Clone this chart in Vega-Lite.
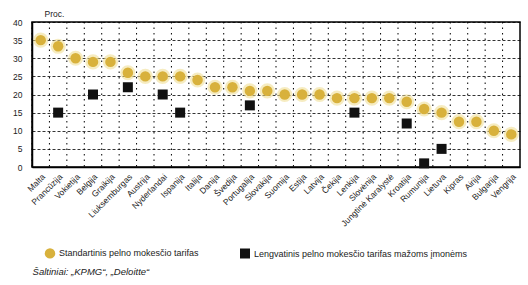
{
  "$schema": "https://vega.github.io/schema/vega-lite/v6.json",
  "width": 488,
  "height": 145,
  "autosize": {"type": "none"},
  "padding": {"left": 32, "top": 22, "right": 8, "bottom": 118},
  "background": "white",
  "config": {
    "font": "Liberation Sans",
    "view": {"stroke": "black", "strokeWidth": 1.5}
  },
  "title": {
    "text": "Šaltiniai: „KPMG“, „Deloitte“",
    "orient": "bottom",
    "anchor": "start",
    "fontSize": 9.5,
    "fontStyle": "italic",
    "fontWeight": "normal",
    "color": "#222",
    "dx": 20,
    "offset": 8
  },
  "data": {
    "values": [
      {"salis": "Malta", "tarifas": 35, "serija": "Standartinis pelno mokesčio tarifas"},
      {"salis": "Prancūzija", "tarifas": 33.3, "serija": "Standartinis pelno mokesčio tarifas"},
      {"salis": "Vokietija", "tarifas": 30, "serija": "Standartinis pelno mokesčio tarifas"},
      {"salis": "Belgija", "tarifas": 29, "serija": "Standartinis pelno mokesčio tarifas"},
      {"salis": "Graikija", "tarifas": 29, "serija": "Standartinis pelno mokesčio tarifas"},
      {"salis": "Liuksemburgas", "tarifas": 26, "serija": "Standartinis pelno mokesčio tarifas"},
      {"salis": "Austrija", "tarifas": 25, "serija": "Standartinis pelno mokesčio tarifas"},
      {"salis": "Nyderlandai", "tarifas": 25, "serija": "Standartinis pelno mokesčio tarifas"},
      {"salis": "Ispanija", "tarifas": 25, "serija": "Standartinis pelno mokesčio tarifas"},
      {"salis": "Italija", "tarifas": 24, "serija": "Standartinis pelno mokesčio tarifas"},
      {"salis": "Danija", "tarifas": 22, "serija": "Standartinis pelno mokesčio tarifas"},
      {"salis": "Švedija", "tarifas": 22, "serija": "Standartinis pelno mokesčio tarifas"},
      {"salis": "Portugalija", "tarifas": 21, "serija": "Standartinis pelno mokesčio tarifas"},
      {"salis": "Slovakija", "tarifas": 21, "serija": "Standartinis pelno mokesčio tarifas"},
      {"salis": "Suomija", "tarifas": 20, "serija": "Standartinis pelno mokesčio tarifas"},
      {"salis": "Estija", "tarifas": 20, "serija": "Standartinis pelno mokesčio tarifas"},
      {"salis": "Latvija", "tarifas": 20, "serija": "Standartinis pelno mokesčio tarifas"},
      {"salis": "Čekija", "tarifas": 19, "serija": "Standartinis pelno mokesčio tarifas"},
      {"salis": "Lenkija", "tarifas": 19, "serija": "Standartinis pelno mokesčio tarifas"},
      {"salis": "Slovėnija", "tarifas": 19, "serija": "Standartinis pelno mokesčio tarifas"},
      {"salis": "Jungtinė Karalystė", "tarifas": 19, "serija": "Standartinis pelno mokesčio tarifas"},
      {"salis": "Kroatija", "tarifas": 18, "serija": "Standartinis pelno mokesčio tarifas"},
      {"salis": "Rumunija", "tarifas": 16, "serija": "Standartinis pelno mokesčio tarifas"},
      {"salis": "Lietuva", "tarifas": 15, "serija": "Standartinis pelno mokesčio tarifas"},
      {"salis": "Kipras", "tarifas": 12.5, "serija": "Standartinis pelno mokesčio tarifas"},
      {"salis": "Airija", "tarifas": 12.5, "serija": "Standartinis pelno mokesčio tarifas"},
      {"salis": "Bulgarija", "tarifas": 10, "serija": "Standartinis pelno mokesčio tarifas"},
      {"salis": "Vengrija", "tarifas": 9, "serija": "Standartinis pelno mokesčio tarifas"},
      {"salis": "Prancūzija", "tarifas": 15, "serija": "Lengvatinis pelno mokesčio tarifas mažoms įmonėms"},
      {"salis": "Belgija", "tarifas": 20, "serija": "Lengvatinis pelno mokesčio tarifas mažoms įmonėms"},
      {"salis": "Liuksemburgas", "tarifas": 22, "serija": "Lengvatinis pelno mokesčio tarifas mažoms įmonėms"},
      {"salis": "Nyderlandai", "tarifas": 20, "serija": "Lengvatinis pelno mokesčio tarifas mažoms įmonėms"},
      {"salis": "Ispanija", "tarifas": 15, "serija": "Lengvatinis pelno mokesčio tarifas mažoms įmonėms"},
      {"salis": "Portugalija", "tarifas": 17, "serija": "Lengvatinis pelno mokesčio tarifas mažoms įmonėms"},
      {"salis": "Lenkija", "tarifas": 15, "serija": "Lengvatinis pelno mokesčio tarifas mažoms įmonėms"},
      {"salis": "Kroatija", "tarifas": 12, "serija": "Lengvatinis pelno mokesčio tarifas mažoms įmonėms"},
      {"salis": "Rumunija", "tarifas": 1, "serija": "Lengvatinis pelno mokesčio tarifas mažoms įmonėms"},
      {"salis": "Lietuva", "tarifas": 5, "serija": "Lengvatinis pelno mokesčio tarifas mažoms įmonėms"}
    ]
  },
  "encoding": {
    "x": {
      "field": "salis", "type": "nominal", "sort": null,
      "scale": {"type": "band", "paddingInner": 0, "paddingOuter": 0},
      "axis": {"grid": false, "ticks": false, "domain": true, "domainColor": "black", "domainWidth": 1.5, "title": null, "labelAngle": -45, "labelFontSize": 8.5, "labelColor": "#222", "labelPadding": 5, "labelOverlap": false}
    }
  },
  "layer": [
    {
      "transform": [{"filter": "datum.serija === 'Standartinis pelno mokesčio tarifas'"}],
      "mark": {"type": "rule", "color": "black", "strokeWidth": 1, "strokeDash": [1.5, 4]},
      "encoding": {
        "x": {"field": "salis", "type": "nominal", "sort": null, "bandPosition": 0}
      }
    },
    {
      "transform": [{"filter": "datum.serija === 'Standartinis pelno mokesčio tarifas'"}],
      "mark": {"type": "point", "filled": true, "shape": "circle", "size": 230, "color": "#efdd8e", "opacity": 0.55},
      "encoding": {
        "y": {
          "field": "tarifas", "type": "quantitative", "scale": {"domain": [0, 40]},
          "axis": {"values": [0, 5, 10, 15, 20, 25, 30, 35, 40], "grid": true, "gridDash": [3, 2], "gridColor": "black", "gridWidth": 0.8, "domain": true, "domainColor": "black", "domainWidth": 1.5, "ticks": false, "labelPadding": 10, "labelFontSize": 8.5, "labelColor": "#222", "title": "Proc.", "titleAngle": 0, "titleAlign": "left", "titleBaseline": "bottom", "titleX": 12, "titleY": -4, "titleFontSize": 8.5, "titleFontWeight": "normal", "titleColor": "#222"}
        }
      }
    },
    {
      "mark": {"type": "point", "filled": true, "opacity": 1},
      "encoding": {
        "y": {
          "field": "tarifas", "type": "quantitative", "scale": {"domain": [0, 40]},
          "axis": {"values": [0, 5, 10, 15, 20, 25, 30, 35, 40], "grid": true, "gridDash": [3, 2], "gridColor": "black", "gridWidth": 0.8, "domain": true, "domainColor": "black", "domainWidth": 1.5, "ticks": false, "labelPadding": 10, "labelFontSize": 8.5, "labelColor": "#222", "title": "Proc.", "titleAngle": 0, "titleAlign": "left", "titleBaseline": "bottom", "titleX": 12, "titleY": -4, "titleFontSize": 8.5, "titleFontWeight": "normal", "titleColor": "#222"}
        },
        "color": {
          "field": "serija", "type": "nominal",
          "scale": {"domain": ["Standartinis pelno mokesčio tarifas", "Lengvatinis pelno mokesčio tarifas mažoms įmonėms"], "range": ["#d8b13c", "#111111"]},
          "legend": {"orient": "none", "legendX": 12, "legendY": 225, "direction": "horizontal", "title": null, "labelFontSize": 9, "labelColor": "#222", "labelLimit": 0, "symbolSize": 50, "columnPadding": 40, "labelOffset": 3}
        },
        "shape": {
          "field": "serija", "type": "nominal",
          "scale": {"domain": ["Standartinis pelno mokesčio tarifas", "Lengvatinis pelno mokesčio tarifas mažoms įmonėms"], "range": ["circle", "square"]},
          "legend": {"orient": "none", "legendX": 12, "legendY": 225, "direction": "horizontal", "title": null, "labelFontSize": 9, "labelColor": "#222", "labelLimit": 0, "symbolSize": 50, "columnPadding": 40, "labelOffset": 3}
        },
        "size": {
          "field": "serija", "type": "nominal",
          "scale": {"domain": ["Standartinis pelno mokesčio tarifas", "Lengvatinis pelno mokesčio tarifas mažoms įmonėms"], "range": [110, 100]},
          "legend": null
        }
      }
    }
  ]
}
